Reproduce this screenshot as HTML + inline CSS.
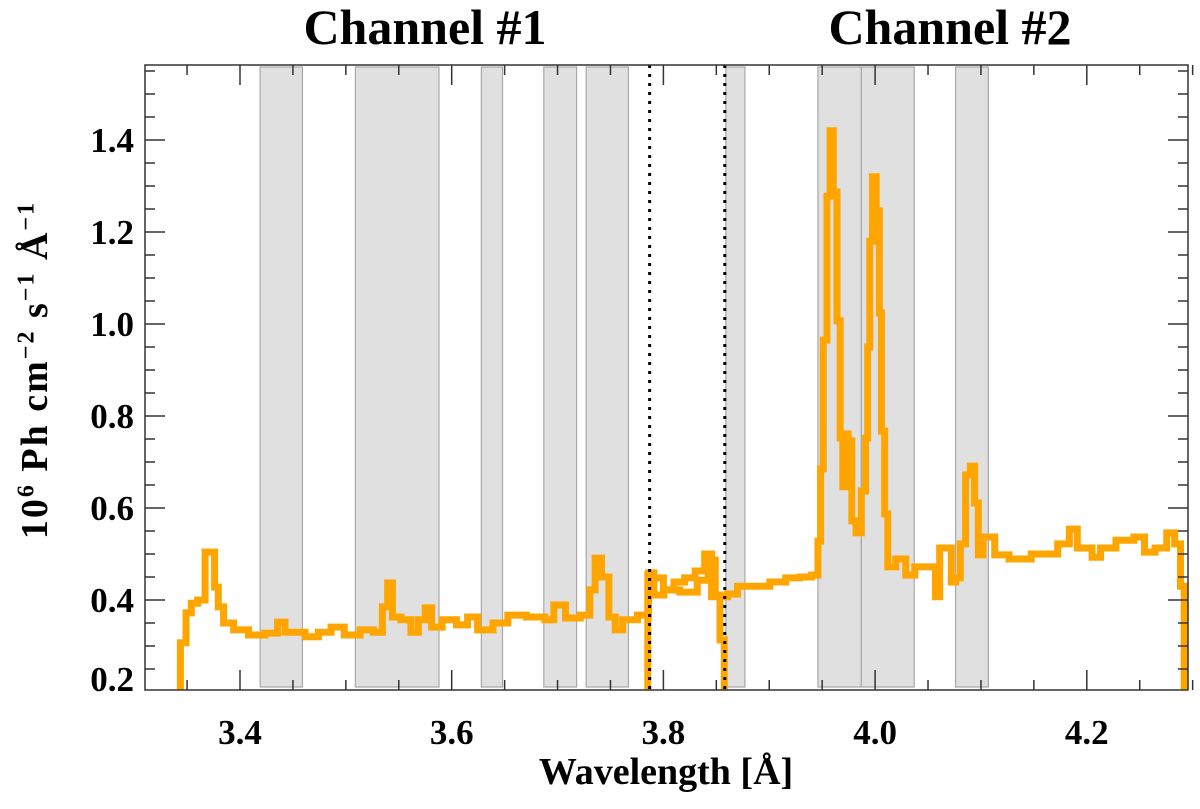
<!DOCTYPE html>
<html><head><meta charset="utf-8"><style>
body{margin:0;background:#fff}
svg text{font-family:"Liberation Serif",serif;font-weight:bold;fill:#000}
</style></head><body>
<svg id="c" width="1200" height="804" xmlns="http://www.w3.org/2000/svg"></svg>
<script>
const xTicks=[3.4,3.6,3.8,4.0,4.2];
const yTicks=[0.2,0.4,0.6,0.8,1.0,1.2,1.4];
const bandStart=[3.419,3.509,3.628,3.687,3.727,3.859,3.946,3.987,4.076];
const bandEnd=[3.459,3.588,3.648,3.718,3.767,3.877,3.987,4.037,4.107];
const dividers=[3.787,3.858];
const ch1W=[3.3414,3.346,3.352,3.356,3.364,3.370,3.374,3.378,3.381,3.388,3.400,3.416,3.431,3.440,3.445,3.457,3.466,3.482,3.490,3.507,3.520,3.532,3.537,3.542,3.546,3.558,3.565,3.572,3.578,3.584,3.598,3.611,3.619,3.630,3.648,3.658,3.683,3.693,3.700,3.715,3.728,3.733,3.738,3.745,3.752,3.757,3.766,3.785,3.787,3.795,3.806,3.825,3.839,3.846,3.852,3.855,3.860];
const ch1F=[0.15,0.307,0.372,0.393,0.400,0.504,0.504,0.428,0.385,0.350,0.335,0.324,0.328,0.352,0.330,0.330,0.320,0.330,0.341,0.324,0.335,0.330,0.385,0.437,0.363,0.357,0.330,0.357,0.383,0.341,0.357,0.346,0.363,0.335,0.350,0.367,0.363,0.357,0.389,0.361,0.367,0.422,0.491,0.450,0.363,0.335,0.357,0.367,0.459,0.411,0.422,0.417,0.443,0.487,0.411,0.313,0.15];
const ch2W=[3.7845,3.786,3.795,3.805,3.815,3.825,3.835,3.843,3.848,3.856,3.865,3.875,3.892,3.909,3.922,3.936,3.944,3.948,3.949,3.953,3.956,3.959,3.962,3.966,3.968,3.971,3.973,3.976,3.980,3.984,3.990,3.992,3.994,3.996,3.999,4.003,4.005,4.007,4.011,4.013,4.026,4.032,4.043,4.055,4.059,4.063,4.070,4.074,4.078,4.083,4.088,4.092,4.096,4.099,4.105,4.110,4.116,4.123,4.130,4.143,4.152,4.167,4.178,4.189,4.193,4.201,4.209,4.217,4.238,4.251,4.258,4.271,4.280,4.286,4.291,4.293];
const ch2F=[0.15,0.454,0.448,0.422,0.439,0.448,0.463,0.500,0.407,0.407,0.413,0.430,0.430,0.439,0.448,0.450,0.454,0.528,0.685,0.965,1.278,1.420,1.287,1.007,0.752,0.646,0.761,0.746,0.572,0.546,0.637,0.752,0.950,1.180,1.320,1.246,1.024,0.767,0.587,0.472,0.489,0.454,0.472,0.472,0.407,0.513,0.513,0.439,0.448,0.522,0.672,0.691,0.611,0.498,0.537,0.537,0.498,0.498,0.489,0.489,0.500,0.500,0.522,0.554,0.513,0.513,0.493,0.513,0.530,0.537,0.504,0.513,0.546,0.522,0.430,0.15];

const L=145,R=1188,T=65,B=690;
const X=w=>240+(w-3.4)*1058.5;
const Y=v=>692-(v-0.2)*460;
const NS="http://www.w3.org/2000/svg";
const svg=document.getElementById('c');
function mk(t,a,p){const e=document.createElementNS(NS,t);for(const k in a)e.setAttribute(k,a[k]);(p||svg).appendChild(e);return e;}
const defs=mk('defs',{});const cp=mk('clipPath',{id:'clip'},defs);mk('rect',{x:L,y:T,width:R-L,height:B-T},cp);

for(let i=0;i<bandStart.length;i++){
 const r=mk('rect',{x:X(bandStart[i]),y:T+2,width:X(bandEnd[i])-X(bandStart[i]),height:B-T-5,fill:'#e0e0e0',stroke:'#a8a8a8','stroke-width':1.2});
 
 
}
function stepPath(W,F){let d='';for(let i=0;i<W.length;i++){const x=X(W[i]),y=Y(F[i]);if(i==0)d+='M'+x+' '+y;else{const xm=(X(W[i-1])+x)/2;d+=' H'+xm+' V'+y+' H'+x;}}return d;}
const g=mk('g',{'clip-path':'url(#clip)'});
const p1=mk('path',{d:stepPath(ch1W,ch1F),fill:'none',stroke:'#ffa500','stroke-width':7,'stroke-linejoin':'miter'},g);


const p2=mk('path',{d:stepPath(ch2W,ch2F),fill:'none',stroke:'#ffa500','stroke-width':7,'stroke-linejoin':'miter'},g);


dividers.forEach(w=>{const l=mk('line',{x1:X(w),x2:X(w),y1:T,y2:B,stroke:'#000','stroke-width':3,'stroke-dasharray':'3 6'});
 
 });

const ax=mk('rect',{x:L,y:T,width:R-L,height:B-T,fill:'none',stroke:'#333','stroke-width':1.5});


for(let w=3.35;w<4.3;w+=0.05){const x=X(w);const maj=xTicks.some(t=>Math.abs(t-w)<1e-6);const len=maj?20:10;
 mk('line',{x1:x,x2:x,y1:B,y2:B-len,stroke:'#333','stroke-width':1.5});mk('line',{x1:x,x2:x,y1:T,y2:T+len,stroke:'#333','stroke-width':1.5});}
for(let v=0.25;v<1.56;v+=0.05){const y=Y(v);const maj=yTicks.some(t=>Math.abs(t-v)<1e-6);const len=maj?20:10;
 mk('line',{x1:L,x2:L+len,y1:y,y2:y,stroke:'#333','stroke-width':1.5});mk('line',{x1:R,x2:R-len,y1:y,y2:y,stroke:'#333','stroke-width':1.5});}
xTicks.forEach(t=>{const e=mk('text',{x:X(t),y:744,'text-anchor':'middle','font-size':35});e.textContent=t.toFixed(1);
 
 });
yTicks.forEach(t=>{const yy=t===0.2?691:Y(t)+12;const e=mk('text',{x:134,y:yy,'text-anchor':'end','font-size':35});e.textContent=t.toFixed(1);
 
 });
</script>
<div style="position:absolute;left:0;top:0;width:1200px;height:804px;pointer-events:none;font-family:'Liberation Serif',serif;font-weight:bold">
<div style="position:absolute;left:275px;top:-2px;width:300px;text-align:center;font-size:50px">Channel #1</div>
<div style="position:absolute;left:800px;top:-2px;width:300px;text-align:center;font-size:50px">Channel #2</div>
<div style="position:absolute;left:446px;top:750px;width:440px;text-align:center;font-size:38px">Wavelength [Å]</div>
<div style="position:absolute;left:-215px;top:348px;width:500px;text-align:center;font-size:38px;letter-spacing:2px;transform:rotate(-90deg)">10<sup style="font-size:24px">6</sup> Ph cm<sup style="font-size:24px">−2</sup> s<sup style="font-size:24px">−1</sup> Å<sup style="font-size:24px">−1</sup></div>
</div>
</body></html>
